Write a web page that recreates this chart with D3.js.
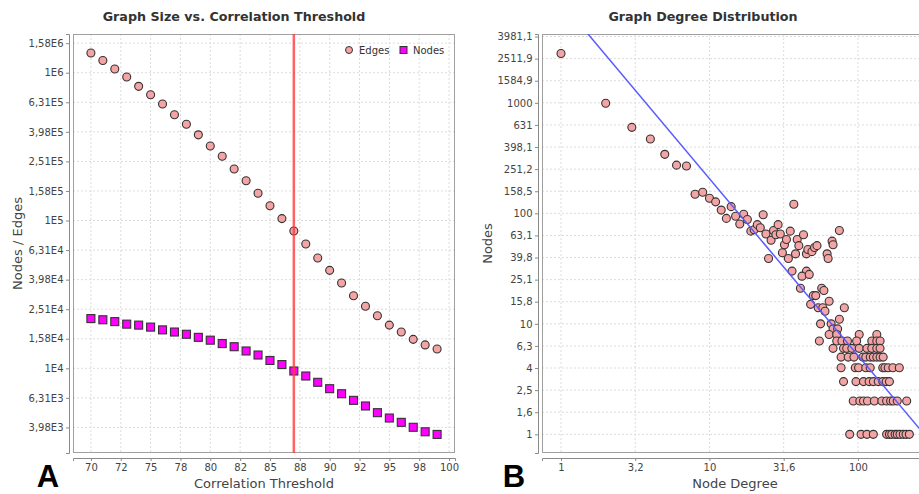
<!DOCTYPE html>
<html><head><meta charset="utf-8">
<script src="https://cdn.jsdelivr.net/npm/d3@7"></script>
<style>
html,body{margin:0;padding:0;background:#fff;}
svg{display:block;font-family:"DejaVu Sans",sans-serif;}
</style></head><body>
<svg id="c" width="919" height="494"></svg>
<script>
// ---------- Data: chart A ----------
const thresholds = [70,71,72,73,74,75,76,77,78,79,80,81,82,83,84,85,86,87,88,89,90,91,92,93,94,95,96,97,98,99];
const edges = [1360000,1210000,1060000,935000,809000,710000,614000,520000,448000,380000,319000,272000,223000,186000,153000,126000,103000,84900,69300,55800,46000,37800,31000,26300,22700,19600,17600,15700,14400,13500];
const nodes = [21700,21300,20700,19900,19600,19000,18200,17600,17000,16200,15500,14700,14000,13100,12300,11300,10600,9590,8870,8040,7280,6730,6070,5560,5010,4610,4310,3990,3720,3570];
const chosenThreshold = 87;
const aXTicks = [70,72.5,75,77.5,80,82.5,85,87.5,90,92.5,95,97.5,100];
const aXTickLabels = ["70","72","75","78","80","82","85","88","90","92","95","98","100"];
const aYTickExp = [3.6,3.8,4,4.2,4.4,4.6,4.8,5,5.2,5.4,5.6,5.8,6,6.2];
const aYTickLabels = ["3,98E3","6,31E3","1E4","1,58E4","2,51E4","3,98E4","6,31E4","1E5","1,58E5","2,51E5","3,98E5","6,31E5","1E6","1,58E6"];

// ---------- Data: chart B ----------
const degree = [1,2,3,4,5,6,7,8,9,10,11,12,13,14,15,16,17,18,19,20,21,22,23,24,25,26,27,28,29,30,31,32,33,34,35,37,38,39,40,43,45,46,49,51,53,62,63,67,68,75,
  36,45,42,47,41,57,59,50,52,48,54,58,60,64,81,56,66,75,68,73,64,72,55,72,78,85,102,98,134,124,134,141,
  68,80,84,91,102,115,124,134,141,
  77,86,94,108,113,121,127,134,141,148,
  77,96,101,113,121,147,152,160,172,190,
  80,97,109,119,127,137,147,155,163,
  93,103,109,116,129,145,156,166,173,184,213,
  88,105,115,127,156,163,169,178,184,192,202,211,222];
const count = [2800,990,600,470,342,273,268,149,155,137,127,107,90,115,94,80,98,88,69,71,79,74,97,65,39,57,70,64,79,65,44,52,58,39,69,121,43,58,51,64,43,47,45,49,51,43,39,56,52,70,
  30,30,27,28,21,21,20,18,18,15,14,14,13,16,14,10,10,11,9,9,8,8,7,7,7,7,8,7,8,7,7,7,
  6,6,6,6,6,6,6,6,6,
  5,5,5,5,5,5,5,5,5,5,
  4,4,4,4,4,4,4,4,4,4,
  3,3,3,3,3,3,3,3,3,
  2,2,2,2,2,2,2,2,2,2,2,
  1,1,1,1,1,1,1,1,1,1,1,1,1];
const fitCoef = 8200, fitExp = -1.6;
const bXTickExp = [0,0.5,1,1.5,2];
const bXTickLabels = ["1","3,2","10","31,6","100"];
const bYTickExp = [0,0.2,0.4,0.6,0.8,1,1.2,1.4,1.6,1.8,2,2.2,2.4,2.6,2.8,3,3.2,3.4,3.6];
const bYTickLabels = ["1","1,6","2,5","4","6,3","10","15,8","25,1","39,8","63,1","100","158,5","251,2","398,1","631","1000","1584,9","2511,9","3981,1"];

// ---------- Drawing ----------
const svg = d3.select("#c");
const gridCol = "#dcdcdc", axisCol = "#8a8a8a", textCol = "#444";
const edgeFill = "#f4a4a4", nodeFill = "#ff00ff", markStroke = "#333";

function frame(g, x0, x1, y0, y1, clipId){
  g.append("clipPath").attr("id", clipId).append("rect")
    .attr("x", x0).attr("y", y0).attr("width", x1-x0).attr("height", y1-y0);
  g.append("rect").attr("x", x0).attr("y", y0).attr("width", x1-x0).attr("height", y1-y0)
    .attr("fill", "#fff");
}
function styleAxis(sel){
  sel.select(".domain").attr("stroke", axisCol);
  sel.selectAll(".tick line").attr("stroke", axisCol);
  sel.selectAll(".tick text").attr("fill", textCol).attr("font-size", 10)
    .attr("font-family", "DejaVu Sans");
}

// ----- Chart A -----
{
  const x0 = 73, x1 = 455, y0 = 34, y1 = 453;
  const x = d3.scaleLinear().domain([68.5, 100.5]).range([x0, x1]);
  const y = d3.scaleLog().domain([Math.pow(10,3.427), Math.pow(10,6.262)]).range([y1, y0]);
  const g = svg.append("g");
  frame(g, x0, x1, y0, y1, "clipA");
  g.append("g").selectAll("line").data(aXTicks).join("line")
    .attr("x1", d => x(d)).attr("x2", d => x(d)).attr("y1", y0).attr("y2", y1)
    .attr("stroke", gridCol).attr("stroke-dasharray", "2,2");
  g.append("g").selectAll("line").data(aYTickExp).join("line")
    .attr("x1", x0).attr("x2", x1).attr("y1", d => y(Math.pow(10,d))).attr("y2", d => y(Math.pow(10,d)))
    .attr("stroke", gridCol).attr("stroke-dasharray", "2,2");
  g.append("rect").attr("x", x0+0.5).attr("y", y0+0.5).attr("width", x1-x0-1).attr("height", y1-y0-1)
    .attr("fill", "none").attr("stroke", "#a0a0a0");
  const ax = g.append("g").attr("transform", `translate(0,${y1+5})`)
    .call(d3.axisBottom(x).tickValues(aXTicks).tickFormat((d,i) => aXTickLabels[i]).tickSizeOuter(0).tickSize(3).tickPadding(3));
  styleAxis(ax);
  const ay = g.append("g").attr("transform", `translate(${x0-4},0)`)
    .call(d3.axisLeft(y).tickValues(aYTickExp.map(e => Math.pow(10,e))).tickFormat((d,i) => aYTickLabels[i]).tickSizeOuter(0).tickSize(3).tickPadding(2.5));
  styleAxis(ay);
  const pg = g.append("g").attr("clip-path", "url(#clipA)");
  pg.selectAll("rect.n").data(thresholds).join("rect").attr("class","n")
    .attr("x", (d,i) => x(d)-4).attr("y", (d,i) => y(nodes[i])-4).attr("width", 8).attr("height", 8)
    .attr("fill", nodeFill).attr("stroke", markStroke).attr("stroke-width", 1.1);
  pg.selectAll("circle.e").data(thresholds).join("circle").attr("class","e")
    .attr("cx", d => x(d)).attr("cy", (d,i) => y(edges[i])).attr("r", 4)
    .attr("fill", edgeFill).attr("stroke", markStroke).attr("stroke-width", 1.1);
  pg.append("line").attr("x1", x(chosenThreshold)).attr("x2", x(chosenThreshold)).attr("y1", y0).attr("y2", y1)
    .attr("stroke", "#ff3c3c").attr("stroke-opacity", 0.8).attr("stroke-width", 2.5);
  const lg = g.append("g").attr("font-size", 10).attr("fill", "#333");
  lg.append("circle").attr("cx", 349).attr("cy", 50).attr("r", 3.5).attr("fill", edgeFill).attr("stroke", markStroke);
  lg.append("text").attr("x", 359).attr("y", 53.5).text("Edges");
  lg.append("rect").attr("x", 400).attr("y", 46.5).attr("width", 7).attr("height", 7).attr("fill", nodeFill).attr("stroke", markStroke);
  lg.append("text").attr("x", 413).attr("y", 53.5).text("Nodes");
  svg.append("text").attr("x", 234).attr("y", 21).attr("text-anchor", "middle")
    .attr("font-weight", "bold").attr("font-size", 12.7).attr("fill", "#333").text("Graph Size vs. Correlation Threshold");
  svg.append("text").attr("x", (x0+x1)/2).attr("y", 488).attr("text-anchor", "middle")
    .attr("font-size", 13).attr("fill", textCol).text("Correlation Threshold");
  svg.append("text").attr("transform", `translate(22,${(y0+y1)/2}) rotate(-90)`).attr("text-anchor", "middle")
    .attr("font-size", 13).attr("fill", textCol).text("Nodes / Edges");
  svg.append("text").attr("x", 48).attr("y", 487).attr("text-anchor", "middle")
    .attr("font-family", "Liberation Sans").attr("font-weight", "bold").attr("font-size", 31).attr("fill", "#000").text("A");
}

// ----- Chart B -----
{
  const x0 = 542, x1 = 928, y0 = 34, y1 = 453;
  const x = d3.scaleLog().domain([Math.pow(10,-0.128), Math.pow(10,2.472)]).range([x0, x1]);
  const y = d3.scaleLog().domain([Math.pow(10,-0.169), Math.pow(10,3.623)]).range([y1, y0]);
  const g = svg.append("g");
  frame(g, x0, x1, y0, y1, "clipB");
  g.append("g").selectAll("line").data(bXTickExp).join("line")
    .attr("x1", d => x(Math.pow(10,d))).attr("x2", d => x(Math.pow(10,d))).attr("y1", y0).attr("y2", y1)
    .attr("stroke", gridCol).attr("stroke-dasharray", "2,2");
  g.append("g").selectAll("line").data(bYTickExp).join("line")
    .attr("x1", x0).attr("x2", x1).attr("y1", d => y(Math.pow(10,d))).attr("y2", d => y(Math.pow(10,d)))
    .attr("stroke", gridCol).attr("stroke-dasharray", "2,2");
  g.append("rect").attr("x", x0+0.5).attr("y", y0+0.5).attr("width", x1-x0-1).attr("height", y1-y0-1)
    .attr("fill", "none").attr("stroke", "#a0a0a0");
  const ax = g.append("g").attr("transform", `translate(0,${y1+5})`)
    .call(d3.axisBottom(x).tickValues(bXTickExp.map(e => Math.pow(10,e))).tickFormat((d,i) => bXTickLabels[i]).tickSizeOuter(0).tickSize(3).tickPadding(3));
  styleAxis(ax);
  const ay = g.append("g").attr("transform", `translate(${x0-4},0)`)
    .call(d3.axisLeft(y).tickValues(bYTickExp.map(e => Math.pow(10,e))).tickFormat((d,i) => bYTickLabels[i]).tickSizeOuter(0).tickSize(3).tickPadding(2.5));
  styleAxis(ay);
  const pg = g.append("g").attr("clip-path", "url(#clipB)");
  pg.selectAll("circle").data(degree).join("circle")
    .attr("cx", d => x(d)).attr("cy", (d,i) => y(count[i])).attr("r", 4)
    .attr("fill", edgeFill).attr("stroke", markStroke).attr("stroke-width", 1.1);
  const dom = x.domain();
  const fitPts = [dom[0], dom[1]].map(d => [d, fitCoef*Math.pow(d, fitExp)]);
  pg.append("path").attr("d", d3.line().x(d => x(d[0])).y(d => y(d[1]))(fitPts))
    .attr("fill", "none").attr("stroke", "#5a5aff").attr("stroke-width", 1.5);
  svg.append("text").attr("x", 703).attr("y", 21).attr("text-anchor", "middle")
    .attr("font-weight", "bold").attr("font-size", 12.7).attr("fill", "#333").text("Graph Degree Distribution");
  svg.append("text").attr("x", (x0+x1)/2).attr("y", 488).attr("text-anchor", "middle")
    .attr("font-size", 13).attr("fill", textCol).text("Node Degree");
  svg.append("text").attr("transform", `translate(492,${(y0+y1)/2}) rotate(-90)`).attr("text-anchor", "middle")
    .attr("font-size", 13).attr("fill", textCol).text("Nodes");
  svg.append("text").attr("x", 514).attr("y", 487).attr("text-anchor", "middle")
    .attr("font-family", "Liberation Sans").attr("font-weight", "bold").attr("font-size", 31).attr("fill", "#000").text("B");
}
</script>
</body></html>
